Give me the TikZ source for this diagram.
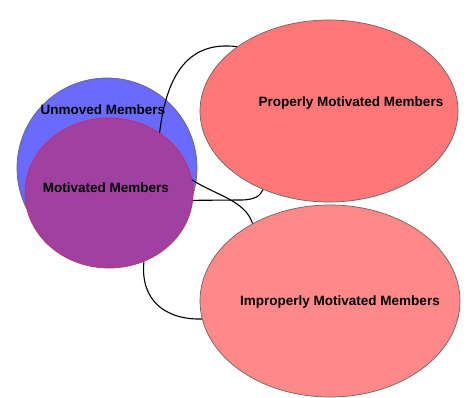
\documentclass[tikz,border=0pt]{standalone}
\usepackage{fontspec}
\setmainfont{Liberation Sans}
\usetikzlibrary{shapes.geometric}
\definecolor{unmovedblue}{RGB}{106,106,255}
\definecolor{motivpurple}{RGB}{160,64,160}
\definecolor{propred}{RGB}{255,119,119}
\definecolor{impropred}{RGB}{255,136,136}
\begin{document}
\begin{tikzpicture}[x=1pt,y=-1pt]
\tikzstyle{every node}+=[inner sep=0pt]
\tikzstyle{blob}=[ellipse,draw=gray!80!black,line width=0.7pt]
\tikzstyle{lbl}=[font=\fontsize{13.5}{15}\selectfont\bfseries]
\tikzstyle{link}=[black,line width=1.1pt]
\useasboundingbox (0,0) rectangle (471,398);
\node [circle,draw=gray!80!black,line width=0.7pt,fill=unmovedblue,minimum size=180pt] (unmoved) at (107,168) {};
\node [blob,draw=red!35!motivpurple,fill=motivpurple,minimum width=168pt,minimum height=150pt] (motivated) at (109,193) {};
\node [blob,fill=propred,minimum width=258pt,minimum height=182pt] (properly) at (329,111) {};
\node [blob,fill=impropred,minimum width=260pt,minimum height=192pt] (improperly) at (330,301) {};
\node [lbl] (unmovedtxt) at (103,110) {Unmoved Members};
\node [lbl] (motivatedtxt) at (106,188) {Motivated Members};
\node [lbl] (properlytxt) at (351,103) {Properly Motivated Members};
\node [lbl] (improperlytxt) at (340,302) {Improperly Motivated Members};
\draw [link] (motivated.50) .. controls (166,80) and (185,40) .. (properly.145);
\draw [link] (motivated.9) .. controls (215,195) and (245,200) .. (improperly.135);
\draw [link] (motivated.-5) -- (240,200) .. controls (255,200) and (260,196) .. (properly.230);
\draw [link] (motivated.-63) .. controls (140,300) and (165,320) .. (improperly.188);
\end{tikzpicture}
\end{document}
